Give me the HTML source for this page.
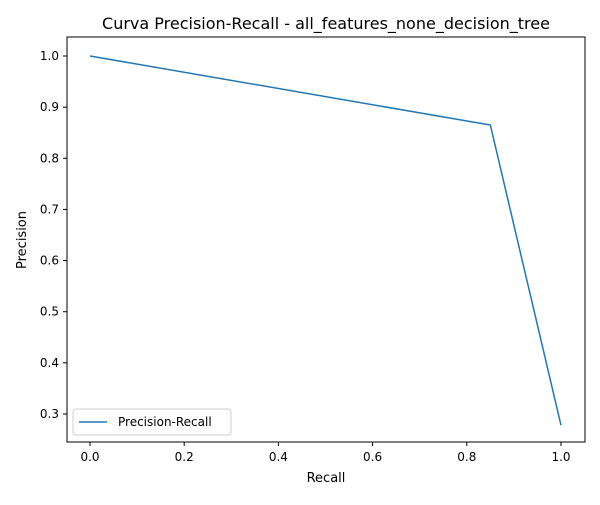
<!DOCTYPE html>
<html><head><meta charset="utf-8"><style>
body{margin:0;background:#fff}
text{font-family:"DejaVu Sans","Liberation Sans",sans-serif;fill:#000}
</style></head><body>
<svg id="c" width="600" height="500" xmlns="http://www.w3.org/2000/svg">
<rect width="600" height="500" fill="#fff"/>
<text x="326" y="29" font-size="16" text-anchor="middle">Curva Precision-Recall - all_features_none_decision_tree</text>
<g id="ax"></g>
<text x="326" y="482" font-size="13" text-anchor="middle">Recall</text>
<text transform="translate(26,240) rotate(-90)" font-size="13" text-anchor="middle">Precision</text>
</svg>
<script>
const recall=[0,0.85,1];
const precision=[1,0.865,0.278];
const xTicks=[0,0.2,0.4,0.6,0.8,1.0];
const yTicks=[0.3,0.4,0.5,0.6,0.7,0.8,0.9,1.0];
const L=67,R=585,T=37,B=442;
const X=v=>90+v*(561-90);
const Y=v=>56+(1-v)*(414-56)/0.7;
const ns="http://www.w3.org/2000/svg";
const g=document.getElementById('ax');
function mk(t,a){const e=document.createElementNS(ns,t);for(const k in a)e.setAttribute(k,a[k]);g.appendChild(e);return e;}
xTicks.forEach(v=>{
 const l=mk('line',{x1:X(v),x2:X(v),y1:B,y2:B+4,stroke:'#000'});
 
 
 const t=mk('text',{x:X(v),y:B+19,'font-size':12,'text-anchor':'middle'});t.textContent=v.toFixed(1);
 
 
});
yTicks.forEach(v=>{
 const l=mk('line',{x1:L-4,x2:L,y1:Y(v),y2:Y(v),stroke:'#000'});
 
 
 const t=mk('text',{x:L-8,y:Y(v)+4,'font-size':12,'text-anchor':'end'});t.textContent=v.toFixed(1);
 
 
});
const p=mk('polyline',{points:recall.map((r,i)=>X(r)+','+Y(precision[i])).join(' '),fill:'none',stroke:'#1f77b4','stroke-width':1.5});


const f=mk('rect',{x:L,y:T,width:R-L,height:B-T,fill:'none',stroke:'#000','stroke-width':1});


const lg=mk('rect',{x:73,y:409,width:158,height:26,fill:'#fff',stroke:'#ccc',rx:3});


const ll=mk('line',{x1:79,x2:107,y1:422,y2:422,stroke:'#1f77b4','stroke-width':1.5});


const lt=mk('text',{x:118,y:426,'font-size':12});lt.textContent='Precision-Recall';


</script>
</body></html>
